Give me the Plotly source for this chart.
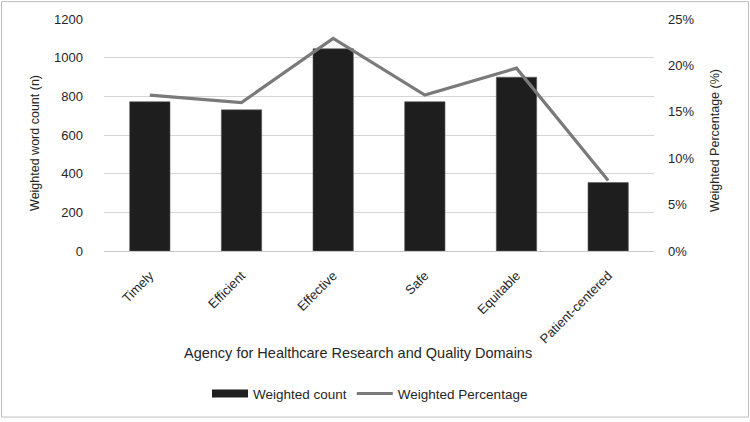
import plotly.graph_objects as go

categories = ["Timely", "Efficient", "Effective", "Safe", "Equitable", "Patient-centered"]
weighted_count = [772, 730, 1046, 772, 899, 354]
weighted_pct = [16.8, 16.0, 22.9, 16.8, 19.7, 7.6]
left_ticks = [0, 200, 400, 600, 800, 1000, 1200]
right_ticks = [0, 5, 10, 15, 20, 25]

FONT = "Liberation Sans, Arial, sans-serif"
TXT = "#262626"
L, R, T, B = 104, 96, 19, 169
W, H = 750, 422
pw, ph = W - L - R, H - T - B

fig = go.Figure()
fig.add_trace(go.Bar(
    x=categories, y=weighted_count, name="Weighted count",
    marker=dict(color="#1e1e1e", line=dict(color="#5a5a5a", width=0.6)),
    width=0.44, yaxis="y", showlegend=False, legendgroup="count",
))
fig.add_trace(go.Scatter(
    x=categories, y=weighted_pct, name="Weighted Percentage",
    mode="lines", line=dict(color="#7a7a7a", width=3.2), yaxis="y2",
    showlegend=False, legendgroup="pct",
))
# legend entries (swatches only, no data)
fig.add_trace(go.Scatter(
    x=[None], y=[None], name="Weighted count", mode="lines",
    line=dict(color="#1e1e1e", width=8), legendgroup="count", showlegend=True,
))
fig.add_trace(go.Scatter(
    x=[None], y=[None], name="Weighted Percentage", mode="lines",
    line=dict(color="#7a7a7a", width=3), legendgroup="pct", showlegend=True,
))

def px_x(p):
    return (p - L) / pw

def px_y(p):
    return (H - B - p) / ph

fig.update_layout(
    width=W, height=H,
    margin=dict(l=L, r=R, t=T, b=B, pad=0),
    paper_bgcolor="white", plot_bgcolor="white",
    font=dict(family=FONT, size=13, color=TXT),
    xaxis=dict(
        tickangle=-45, showgrid=False, showline=True, linecolor="#c8c8c8",
        linewidth=1, ticks="", tickfont=dict(size=13, color=TXT),
        range=[-0.5, 5.5], ticklabelstandoff=11,
    ),
    yaxis=dict(
        range=[0, 1200], tickvals=left_ticks, showgrid=True, gridcolor="#d4d4d4",
        gridwidth=1, zeroline=False, ticks="", ticklabelstandoff=20,
        tickfont=dict(size=13, color=TXT), automargin=False,
    ),
    yaxis2=dict(
        range=[0, 25], tickvals=right_ticks, ticktext=[f"{v}%" for v in right_ticks],
        overlaying="y", side="right", showgrid=False, zeroline=False, ticks="",
        ticklabelstandoff=13, tickfont=dict(size=13, color=TXT), automargin=False,
    ),
    showlegend=True,
    legend=dict(
        orientation="h", x=px_x(370), xanchor="center", y=px_y(397), yanchor="middle",
        font=dict(size=13.5, color=TXT), itemwidth=36, traceorder="normal",
        bgcolor="rgba(0,0,0,0)", itemclick=False, itemdoubleclick=False,
    ),
)

fig.add_annotation(text="Weighted word count (n)", x=px_x(35), y=px_y(144), xref="paper", yref="paper",
                   textangle=-90, showarrow=False, font=dict(size=12.5, color=TXT),
                   xanchor="center", yanchor="middle")
fig.add_annotation(text="Weighted Percentage (%)", x=px_x(715), y=px_y(142), xref="paper", yref="paper",
                   textangle=-90, showarrow=False, font=dict(size=12.5, color=TXT),
                   xanchor="center", yanchor="middle")
fig.add_annotation(text="Agency for Healthcare Research and Quality Domains", x=px_x(358), y=px_y(356),
                   xref="paper", yref="paper", showarrow=False, font=dict(size=14.5, color=TXT),
                   xanchor="center", yanchor="middle")
fig.add_shape(type="rect", xref="paper", yref="paper", x0=px_x(1.5), x1=px_x(748.5),
              y0=px_y(420.5), y1=px_y(1.5), line=dict(color="#bdbdbd", width=1), layer="below")

fig.write_html("out.html")
